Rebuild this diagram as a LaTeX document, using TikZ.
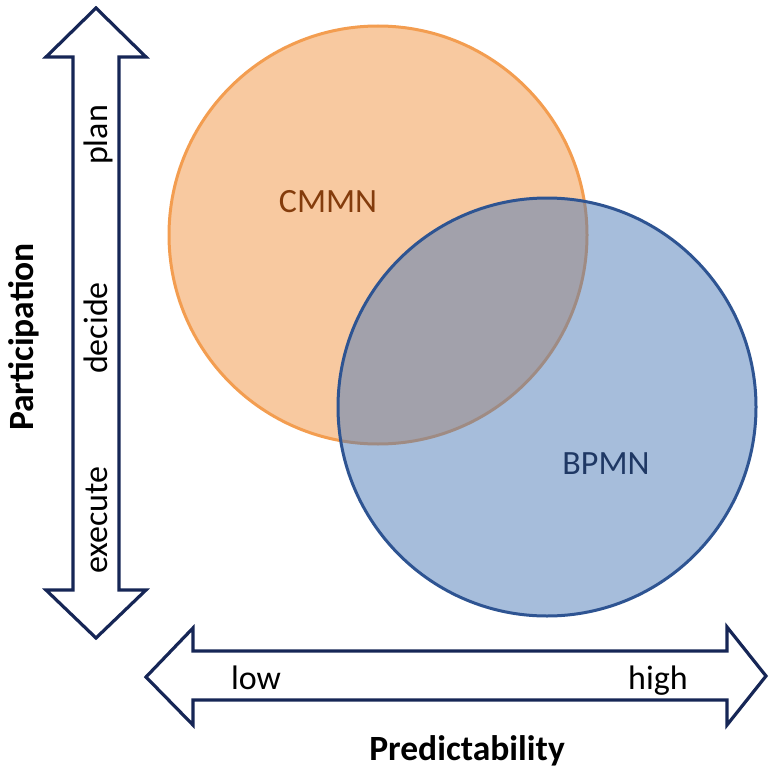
\documentclass[tikz,border=0pt]{standalone}
\usepackage{fontspec}
\setmainfont{Carlito}
\usepackage{tikz}

\definecolor{navy}{RGB}{22,38,86}
\definecolor{cmmnfill}{RGB}{248,201,160}
\definecolor{cmmnline}{RGB}{243,157,80}
\definecolor{cmmntext}{RGB}{132,60,12}
\definecolor{bpmnfill}{RGB}{77,123,183}
\definecolor{bpmnline}{RGB}{46,84,146}
\definecolor{bpmntext}{RGB}{31,56,100}

\begin{document}
\begin{tikzpicture}[x=1pt, y=-1pt,
    blockarrow/.style={draw=navy, line width=3.2pt, fill=white, line join=miter},
    setcircle/.style={circle, line width=3pt, minimum size=418pt, inner sep=0pt},
    axislabel/.style={font=\fontsize{34}{40}\selectfont, anchor=base},
    axistitle/.style={font=\fontsize{35.5}{42}\selectfont\bfseries, anchor=base},
    setlabel/.style={font=\fontsize{34}{40}\selectfont, anchor=base}]
    \useasboundingbox (0,0) rectangle (770,770);

    % sets
    \node[setcircle, draw=cmmnline, fill=cmmnfill] at (378, 235) (cmmn) {};
    \node[setcircle, draw=bpmnline, fill=bpmnfill, fill opacity=0.5] at (547, 407) (bpmn) {};
    \node[setlabel, text=cmmntext] at (328, 212) (cmmnlabel) {CMMN};
    \node[setlabel, text=bpmntext] at (606, 474) (bpmnlabel) {BPMN};

    % participation axis
    \draw[blockarrow] (96,8) -- (146,57) -- (119,57) -- (119,590) -- (146,590)
        -- (96,638) -- (46,590) -- (73,590) -- (73,57) -- (46,57) -- cycle;
    \node[axislabel, rotate=90] at (107, 135) (plan) {plan};
    \node[axislabel, rotate=90] at (107, 328) (decide) {decide};
    \node[axislabel, rotate=90] at (107, 520) (execute) {execute};
    \node[axistitle, rotate=90] at (33, 337) (participation) {Participation};

    % predictability axis
    \draw[blockarrow] (146,677) -- (193,628) -- (193,651) -- (727,651) -- (727,627)
        -- (766,676) -- (727,725) -- (727,700) -- (193,700) -- (193,725) -- cycle;
    \node[axislabel] at (256, 689) (low) {low};
    \node[axislabel] at (658, 689) (high) {high};
    \node[axistitle] at (467, 760) (predictability) {Predictability};
\end{tikzpicture}
\end{document}
